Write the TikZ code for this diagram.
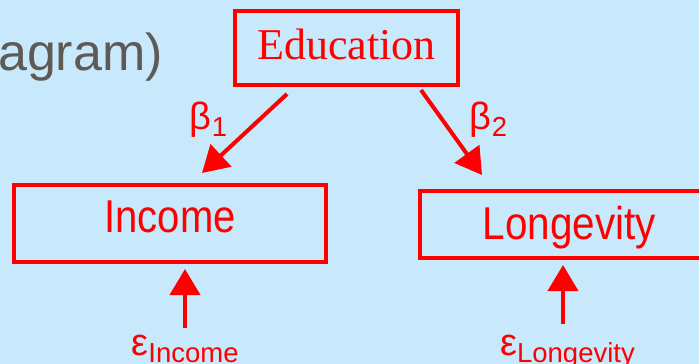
\documentclass[tikz,border=0pt]{standalone}
\usepackage{fontspec}
\usepackage{graphicx}
\setmainfont{Liberation Serif}
\setsansfont{Liberation Sans}
\usetikzlibrary{arrows.meta,calc}
\definecolor{bgblue}{RGB}{200,233,252}
\definecolor{titlegray}{RGB}{95,90,85}
\definecolor{pathred}{RGB}{255,0,0}
\tikzset{
  varbox/.style={draw=pathred, line width=4pt, rectangle, inner sep=0pt, text=pathred},
  sanslabel/.style={font=\sffamily\fontsize{46}{50}\selectfont},
  pathlink/.style={draw=pathred, line width=4pt, -{Triangle[length=26pt,width=30pt]}, shorten >=0pt},
  greeklabel/.style={text=pathred, inner sep=0pt, anchor=base, font=\sffamily},
}
\newcommand{\grk}[2]{{\fontsize{38}{40}\selectfont #1}\raisebox{-7pt}{\fontsize{27.5}{30}\selectfont #2}}
\begin{document}
\begin{tikzpicture}[x=1pt,y=-1pt]
\useasboundingbox (0,0) rectangle (699,364);
\fill[bgblue] (0,0) rectangle (699,364);
\clip (0,0) rectangle (699,364);

\node[text=titlegray, inner sep=0pt, anchor=base east, font=\sffamily\fontsize{52}{56}\selectfont] (title) at (163,70) {agram)};

\node[varbox, minimum width=223pt, minimum height=74pt, text height=22pt, text depth=0pt,
      font=\rmfamily\fontsize{44}{48}\selectfont] (edu) at (346.5,48) {Education};
\node[varbox, sanslabel, minimum width=312pt, minimum height=77pt, text height=17pt, text depth=0pt]
      (inc) at (170,223.5) {\scalebox{0.87}[1]{Income}};
\node[varbox, sanslabel, minimum width=299pt, minimum height=67pt, text height=29pt, text depth=0pt]
      (lon) at (569.5,224.5) {\scalebox{0.88}[1]{Longevity}};

\node[greeklabel] (b1) at (208.5,129) {\grk{β}{1}};
\node[greeklabel] (b2) at (488.5,129) {\grk{β}{2}};

\node[greeklabel] (e1) at (185,355) {\grk{ε}{Income}};
\node[greeklabel] (e2) at (567.5,355) {\grk{ε}{Longevity}};

\draw[pathlink] ($(edu.south)+(-59.5,7)$) -- ($(inc.north)+(32,-10)$);
\draw[pathlink] ($(edu.south)+(74.5,3)$) -- ($(lon.north)+(-87.5,-14)$);
\draw[pathlink] ($(e1.base)+(0,-27)$) -- ($(inc.south)+(15,5)$);
\draw[pathlink] ($(e2.base)+(-4.5,-31)$) -- ($(lon.south)+(-6.5,5)$);
\end{tikzpicture}
\end{document}
